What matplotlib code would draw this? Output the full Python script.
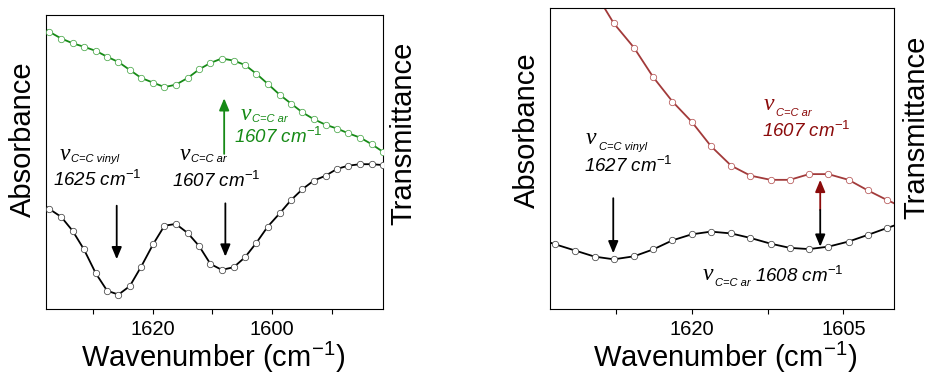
import matplotlib
matplotlib.use("Agg")
import matplotlib.pyplot as plt
from matplotlib.ticker import MultipleLocator

plt.rcParams['font.family'] = ['Liberation Sans', 'DejaVu Sans']
plt.rcParams['mathtext.fontset'] = 'custom'
plt.rcParams['mathtext.rm'] = 'Liberation Sans'
plt.rcParams['mathtext.it'] = 'Liberation Sans:italic'

# ---- left panel data (arbitrary units 0-100) ----
wn_left = [1639.2, 1637.3, 1635.3, 1633.4, 1631.5, 1629.5, 1627.6, 1625.7, 1623.8,
           1621.9, 1619.9, 1618.0, 1616.1, 1614.1, 1612.2, 1610.3, 1608.4, 1606.4,
           1604.5, 1602.6, 1600.7, 1598.7, 1596.8, 1594.9, 1593.0, 1591.0, 1589.1,
           1587.2, 1585.2, 1583.3, 1581.4]
abs_left = [36.8, 34.1, 31.4, 26.7, 20.4, 12.2, 6.3, 5.0, 7.9, 14.5, 22.1, 28.4, 29.0,
            25.9, 21.5, 15.4, 13.4, 14.3, 17.7, 22.6, 28.1, 32.6, 37.1, 40.8, 43.7,
            45.4, 47.7, 48.8, 49.3, 49.3, 49.0]
trans_left = [96.7, 94.3, 92.0, 90.4, 89.2, 87.8, 85.8, 84.0, 81.3, 78.6, 77.0, 75.5,
              76.3, 78.6, 81.5, 83.7, 85.2, 84.5, 83.0, 80.0, 76.6, 72.9, 69.9, 66.9,
              64.6, 62.7, 61.4, 59.8, 58.3, 56.1, 53.5]

# ---- right panel data ----
wn_right = [1635.4, 1633.5, 1631.5, 1629.6, 1627.7, 1625.7, 1623.8, 1621.9, 1620.0,
            1618.1, 1616.1, 1614.2, 1612.2, 1610.3, 1608.4, 1606.5, 1604.5, 1602.6,
            1600.7, 1598.7]
abs_right = [23.7, 21.6, 19.5, 17.5, 16.6, 17.6, 19.9, 22.9, 24.9, 25.8, 25.2, 23.7,
             21.8, 20.4, 20.0, 20.8, 22.5, 24.7, 27.0, 29.3]
wn_right_t = wn_right[3:]
trans_right = [105.5, 95.0, 86.9, 77.1, 69.0, 62.3, 54.2, 47.7, 44.4, 43.0, 43.0, 44.9,
               44.9, 43.0, 39.5, 36.3, 33.2]

green = '#168a16'
green_m = '#4aa84a'
red = '#a23a3a'
red_m = '#b55555'
dred = '#8b0b0b'

fig = plt.figure(figsize=(9.3, 3.74), dpi=100)
ax1 = fig.add_axes([0.0491, 0.173, 0.3627, 0.787])
ax2 = fig.add_axes([0.5914, 0.173, 0.370, 0.805])


def spectrum(ax, x, y, col, mcol):
    ax.plot(x, y, '-', color=col, lw=1.3, zorder=2)
    ax.plot(x, y, 'o', ms=4.6, mfc='white', mec=mcol, mew=0.55, zorder=3)


def arrow(ax, x, y0, y1, col):
    ax.annotate('', xy=(x, y1), xytext=(x, y0),
                arrowprops=dict(arrowstyle='-|>,head_length=0.6,head_width=0.25',
                                color=col, lw=1.3, mutation_scale=12,
                                shrinkA=0, shrinkB=0))


def nu(ax, x, y, sub, col, dx=8.3, dy=-1.7):
    ax.text(x, y, '\u03bd', family='Liberation Serif', style='italic', size=17,
            color=col, va='baseline', ha='left')
    ax.annotate(sub, xy=(x, y), xytext=(dx, dy), textcoords='offset points',
                style='italic', size=8, color=col, va='baseline', ha='left')


def wavenum(ax, x, y, s, col):
    ax.text(x, y, s + r' cm$^{\mathit{-1}}$', style='italic', size=13.5,
            color=col, va='baseline', ha='left')


# left panel
spectrum(ax1, wn_left, trans_left, green, green_m)
spectrum(ax1, wn_left, abs_left, 'black', '#444444')
arrow(ax1, 1626.0, 35.2, 17.0, 'black')
arrow(ax1, 1607.8, 36.0, 17.9, 'black')
arrow(ax1, 1608.0, 52.8, 71.7, green)
nu(ax1, 1635.6, 50.7, 'C=C vinyl', 'black')
wavenum(ax1, 1636.6, 41.9, '1625', 'black')
nu(ax1, 1615.5, 50.7, 'C=C ar', 'black')
wavenum(ax1, 1616.8, 41.7, '1607', 'black')
nu(ax1, 1605.2, 64.3, 'C=C ar', green)
wavenum(ax1, 1606.3, 56.4, '1607', green)
ax1.set_xlim(1637.9, 1581.4)
ax1.set_ylim(0, 100)
ax1.xaxis.set_major_locator(MultipleLocator(20))
ax1.xaxis.set_minor_locator(MultipleLocator(10))

# right panel
spectrum(ax2, wn_right_t, trans_right, red, red_m)
spectrum(ax2, wn_right, abs_right, 'black', '#444444')
arrow(ax2, 1627.75, 36.9, 18.6, 'black')
arrow(ax2, 1607.3, 33.0, 43.0, dred)
arrow(ax2, 1607.3, 33.0, 20.8, 'black')
nu(ax2, 1630.45, 54.9, 'C=C vinyl', 'black', dx=9.4, dy=-4.3)
wavenum(ax2, 1630.65, 45.7, '1627', 'black')
nu(ax2, 1612.9, 66.2, 'C=C ar', dred, dx=9.1, dy=-4.3)
wavenum(ax2, 1613.1, 57.1, '1607', dred)
nu(ax2, 1618.9, 9.7, 'C=C ar', 'black', dx=9.1, dy=-4.3)
wavenum(ax2, 1613.75, 9.2, '1608', 'black')
ax2.set_xlim(1634.0, 1600.0)
ax2.set_ylim(0, 100)
ax2.xaxis.set_major_locator(MultipleLocator(15))
ax2.xaxis.set_minor_locator(MultipleLocator(7.5))

for ax in (ax1, ax2):
    ax.set_yticks([])
    ax.tick_params(axis='x', which='both', direction='out', length=3.5, width=0.8,
                   labelsize=14.5, pad=4, top=False)
    for s in ax.spines.values():
        s.set_linewidth(0.8)

lab = dict(size=21, ha='center', va='center')
fig.text(0.0242, 0.628, 'Absorbance', rotation=90, **lab)
fig.text(0.4333, 0.643, 'Transmittance', rotation=90, **lab)
fig.text(0.5661, 0.652, 'Absorbance', rotation=90, **lab)
fig.text(0.985, 0.660, 'Transmittance', rotation=90, **lab)
fig.text(0.229, 0.0455, r'Wavenumber (cm$^{-1}$)', **lab)
fig.text(0.7796, 0.0455, r'Wavenumber (cm$^{-1}$)', **lab)

fig.savefig('out.png', dpi=100)
